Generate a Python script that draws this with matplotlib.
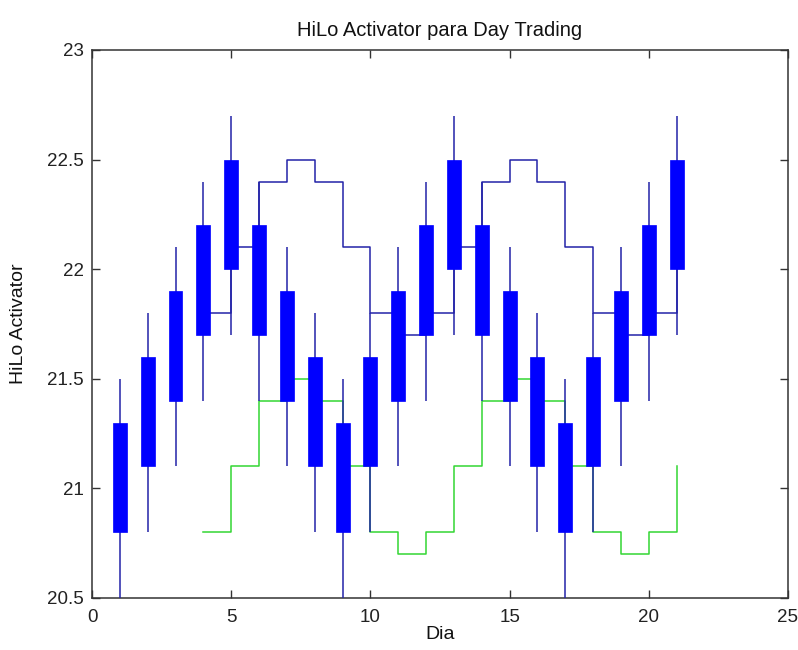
import matplotlib
matplotlib.use("Agg")
import matplotlib.pyplot as plt

# ---- data ----
days = [1, 2, 3, 4, 5, 6, 7, 8, 9, 10, 11, 12, 13, 14, 15, 16, 17, 18, 19, 20, 21]
high = [21.5, 21.8, 22.1, 22.4, 22.7, 22.4, 22.1, 21.8, 21.5, 21.8, 22.1,
        22.4, 22.7, 22.4, 22.1, 21.8, 21.5, 21.8, 22.1, 22.4, 22.7]
low = [20.5, 20.8, 21.1, 21.4, 21.7, 21.4, 21.1, 20.8, 20.5, 20.8, 21.1,
       21.4, 21.7, 21.4, 21.1, 20.8, 20.5, 20.8, 21.1, 21.4, 21.7]
body_low = [20.8, 21.1, 21.4, 21.7, 22.0, 21.7, 21.4, 21.1, 20.8, 21.1, 21.4,
            21.7, 22.0, 21.7, 21.4, 21.1, 20.8, 21.1, 21.4, 21.7, 22.0]
body_high = [21.3, 21.6, 21.9, 22.2, 22.5, 22.2, 21.9, 21.6, 21.3, 21.6, 21.9,
             22.2, 22.5, 22.2, 21.9, 21.6, 21.3, 21.6, 21.9, 22.2, 22.5]

hilo_days = [4, 5, 6, 7, 8, 9, 10, 11, 12, 13, 14, 15, 16, 17, 18, 19, 20, 21]
hilo_high = [21.8, 22.1, 22.4, 22.5, 22.4, 22.1, 21.8, 21.7, 21.8, 22.1,
             22.4, 22.5, 22.4, 22.1, 21.8, 21.7, 21.8, 22.1]
hilo_low = [20.8, 21.1, 21.4, 21.5, 21.4, 21.1, 20.8, 20.7, 20.8, 21.1,
            21.4, 21.5, 21.4, 21.1, 20.8, 20.7, 20.8, 21.1]

xticks = [0, 5, 10, 15, 20, 25]
yticks = [20.5, 21, 21.5, 22, 22.5, 23]
ytick_labels = ["20.5", "21", "21.5", "22", "22.5", "23"]

plt.rcParams['font.family'] = ['Liberation Sans', 'DejaVu Sans']

fig = plt.figure(figsize=(7.98, 6.5), dpi=100)
ax = fig.add_axes([92 / 798, 52 / 650, (788 - 92) / 798, (598 - 50) / 650])

# HiLo lines (under the candles)
ax.step(hilo_days, hilo_high, where='post', color='#2323a8', lw=1.1, zorder=2)
ax.step(hilo_days, hilo_low, where='post', color='#33d633', lw=1.1, zorder=2)

# candles
heights = [h - l for h, l in zip(body_high, body_low)]
ax.vlines(days, low, high, color='#2323a8', lw=1.1, zorder=3)
ax.bar(days, heights, bottom=body_low, width=0.5, color='#0000ff',
       edgecolor='#0000ff', lw=0.5, zorder=4)

ax.set_xlim(0, 25)
ax.set_ylim(20.5, 23)
ax.set_xticks(xticks)
ax.set_yticks(yticks)
ax.set_yticklabels(ytick_labels)
ax.tick_params(direction='in', length=6, width=1, color='#333333',
               top=True, right=True, labelsize=13.5, labelcolor='#222222')
ax.tick_params(axis='x', pad=8)
ax.tick_params(axis='y', pad=6)
for s in ax.spines.values():
    s.set_color('#333333')
    s.set_linewidth(1.1)

ax.set_title("HiLo Activator para Day Trading", fontsize=14.5, color='#111111', pad=10)
ax.set_xlabel("Dia", fontsize=14, color='#111111', labelpad=0)
ax.set_ylabel("HiLo Activator", fontsize=14, color='#111111', labelpad=14)

fig.savefig("out.png", dpi=100, facecolor='white')
